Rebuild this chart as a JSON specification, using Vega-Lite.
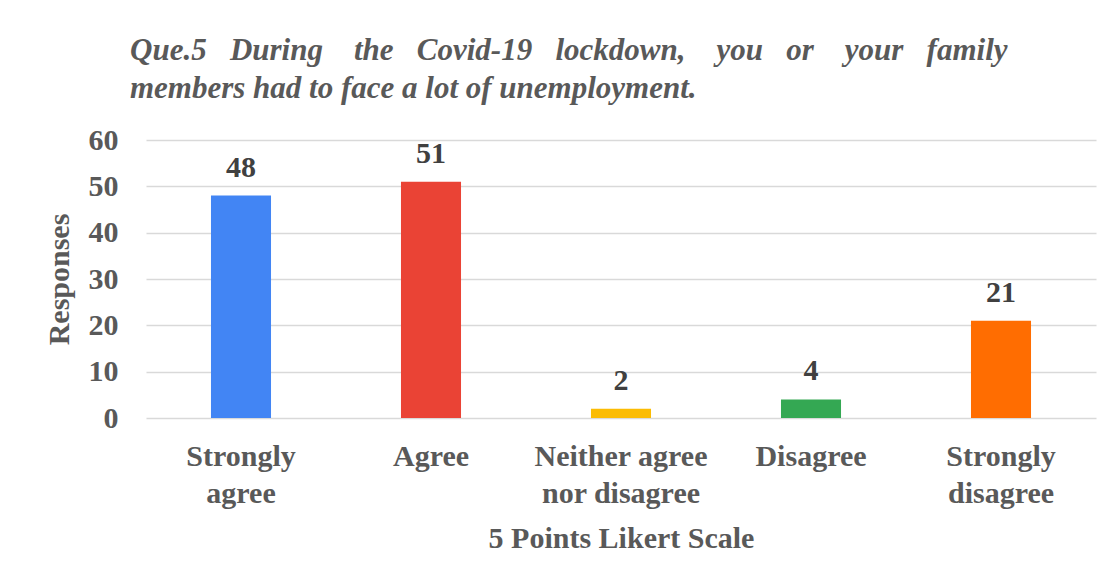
{
  "$schema": "https://vega.github.io/schema/vega-lite/v6.json",
  "autosize": "none",
  "padding": {"left": 146, "top": 140, "right": 22, "bottom": 164},
  "width": 950,
  "height": 278,
  "background": "white",
  "title": {
    "text": ["Que.5 \u00a0\u00a0During \u00a0\u00a0\u00a0the \u00a0\u00a0Covid-19 \u00a0\u00a0lockdown, \u00a0\u00a0\u00a0you \u00a0\u00a0or \u00a0\u00a0\u00a0your \u00a0\u00a0family", "members had to face a lot of unemployment."],
    "anchor": "start",
    "frame": "group",
    "dx": -16,
    "font": "Liberation Serif",
    "fontSize": 31,
    "fontWeight": "bold",
    "fontStyle": "italic",
    "color": "#595959",
    "lineHeight": 38,
    "offset": 20
  },
  "data": {
    "values": [
      {"response": "Strongly agree", "count": 48},
      {"response": "Agree", "count": 51},
      {"response": "Neither agree nor disagree", "count": 2},
      {"response": "Disagree", "count": 4},
      {"response": "Strongly disagree", "count": 21}
    ]
  },
  "encoding": {
    "x": {
      "field": "response",
      "type": "nominal",
      "sort": null,
      "scale": {"paddingInner": 0.684, "paddingOuter": 0.342},
      "axis": {
        "title": "5 Points Likert Scale",
        "labelAngle": 0,
        "labelExpr": "datum.value == 'Neither agree nor disagree' ? ['Neither agree', 'nor disagree'] : split(datum.value, ' ')",
        "labelLineHeight": 37,
        "labelPadding": 23,
        "titlePadding": 15,
        "domain": false,
        "ticks": false,
        "grid": false
      }
    },
    "y": {
      "field": "count",
      "type": "quantitative",
      "scale": {"domain": [0, 60]},
      "axis": {
        "title": "Responses",
        "values": [0, 10, 20, 30, 40, 50, 60],
        "labelPadding": 28,
        "titlePadding": 14,
        "domain": false,
        "ticks": false,
        "grid": true,
        "gridColor": "#d9d9d9",
        "gridWidth": 1.5
      }
    }
  },
  "layer": [
    {
      "mark": {"type": "bar"},
      "encoding": {
        "color": {
          "field": "response",
          "type": "nominal",
          "scale": {
            "domain": ["Strongly agree", "Agree", "Neither agree nor disagree", "Disagree", "Strongly disagree"],
            "range": ["#4285F4", "#EA4335", "#FBBC04", "#34A853", "#FF6D01"]
          },
          "legend": null
        }
      }
    },
    {
      "mark": {
        "type": "text",
        "baseline": "bottom",
        "dy": -13,
        "font": "Liberation Serif",
        "fontSize": 30,
        "fontWeight": "bold",
        "color": "#404040"
      },
      "encoding": {
        "text": {"field": "count", "type": "quantitative"}
      }
    }
  ],
  "config": {
    "view": {"stroke": null},
    "axis": {
      "labelFont": "Liberation Serif",
      "labelFontSize": 30,
      "labelFontWeight": "bold",
      "labelColor": "#595959",
      "titleFont": "Liberation Serif",
      "titleFontSize": 30,
      "titleFontWeight": "bold",
      "titleColor": "#595959"
    }
  }
}
